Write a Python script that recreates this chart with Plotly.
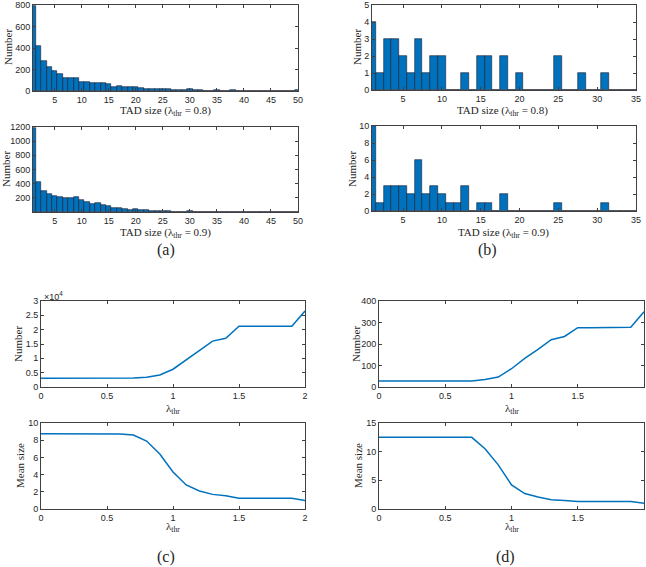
import plotly.graph_objects as go
from plotly.subplots import make_subplots

W, H = 646, 567

# ---------------- data ----------------
a_sizes = list(range(1, 51))
a_top_counts = [790, 420, 283, 225, 190, 160, 117, 120, 120, 86, 86, 77, 74, 74, 62, 40, 43, 40, 34, 40,
                25, 22, 22, 22, 18, 15, 12, 8, 6, 15, 6, 5, 4, 3, 6, 3, 2, 6, 2, 2,
                2, 1, 2, 2, 1, 1, 2, 1, 1, 8]
a_bot_counts = [1180, 425, 294, 248, 220, 215, 192, 200, 210, 164, 145, 117, 121, 93, 79, 61, 56, 37, 33, 42,
                23, 23, 14, 14, 19, 9, 6, 5, 3, 10, 3, 2, 2, 1, 1, 1, 1, 2, 1, 0,
                1, 0, 0, 0, 0, 0, 0, 0, 0, 0]

b_sizes = list(range(1, 36))
b_top_counts = [4, 1, 3, 3, 2, 1, 3, 1, 2, 2, 0, 0, 1, 0, 2, 2, 0, 2, 0, 1,
                0, 0, 0, 0, 2, 0, 0, 1, 0, 0, 1, 0, 0, 0, 0]
b_bot_counts = [10, 1, 3, 3, 3, 2, 6, 2, 3, 2, 1, 1, 3, 0, 1, 1, 0, 2, 0, 0,
                0, 0, 0, 0, 1, 0, 0, 0, 0, 0, 1, 0, 0, 0, 0]

lam = [0.0, 0.1, 0.2, 0.3, 0.4, 0.5, 0.6, 0.7, 0.8, 0.9, 1.0,
       1.1, 1.2, 1.3, 1.4, 1.5, 1.6, 1.7, 1.8, 1.9, 2.0]
c_number = [3050, 3050, 3050, 3050, 3050, 3050, 3070, 3150, 3400, 4200, 6200,
            9400, 12700, 16000, 17000, 21200, 21200, 21200, 21200, 21200, 26500]
c_mean = [8.75, 8.75, 8.75, 8.75, 8.75, 8.75, 8.72, 8.6, 7.9, 6.4, 4.3,
          2.8, 2.1, 1.7, 1.55, 1.25, 1.25, 1.25, 1.25, 1.25, 1.0]
d_number = [28, 28, 28, 28, 28, 28, 28, 28, 35, 46, 85,
            133, 175, 220, 235, 276, 276, 277, 276, 278, 350]
d_mean = [12.5, 12.5, 12.5, 12.5, 12.5, 12.5, 12.5, 12.5, 10.5, 7.7, 4.2,
          2.7, 2.1, 1.6, 1.5, 1.3, 1.3, 1.3, 1.3, 1.3, 1.0]

BLUE = "#0072BD"
AXC = "#404040"
TICKFONT = dict(family="Liberation Sans, Arial, sans-serif", size=9, color="#262626")
SERIF = "Liberation Serif, Times New Roman, serif"

fig = make_subplots(rows=4, cols=2)

def bar(x, y, r, c):
    fig.add_trace(go.Bar(x=x, y=y, width=1, marker=dict(color=BLUE, line=dict(color="#1a1a2a", width=0.6)),
                         showlegend=False), row=r, col=c)

def line(x, y, r, c):
    fig.add_trace(go.Scatter(x=x, y=y, mode="lines", line=dict(color=BLUE, width=1.5), showlegend=False),
                  row=r, col=c)

bar(a_sizes, a_top_counts, 1, 1)
bar(b_sizes, b_top_counts, 1, 2)
bar(a_sizes, a_bot_counts, 2, 1)
bar(b_sizes, b_bot_counts, 2, 2)
line(lam, c_number, 3, 1)
line(lam, d_number, 3, 2)
line(lam, c_mean, 4, 1)
line(lam, d_mean, 4, 2)

def dx(l, r):
    return [l / W, r / W]

def dy(t, b):
    return [1 - b / H, 1 - t / H]

common = dict(showline=True, linecolor=AXC, linewidth=0.8, mirror="ticks", ticks="inside",
              ticklen=3, tickcolor=AXC, tickfont=TICKFONT, showgrid=False, zeroline=False,
              automargin=False)

specs = {
    1: dict(xd=dx(33, 298), yd=dy(5, 91), xr=[1, 50], xt=list(range(5, 51, 5)),
            yr=[0, 800], yt=[0, 200, 400, 600, 800]),
    2: dict(xd=dx(372, 636), yd=dy(5, 90), xr=[1, 35], xt=list(range(5, 36, 5)),
            yr=[0, 5], yt=[0, 1, 2, 3, 4, 5]),
    3: dict(xd=dx(33, 298), yd=dy(127, 212), xr=[1, 50], xt=list(range(5, 51, 5)),
            yr=[0, 1200], yt=[200, 400, 600, 800, 1000, 1200]),
    4: dict(xd=dx(372, 636), yd=dy(126, 211), xr=[1, 35], xt=list(range(5, 36, 5)),
            yr=[0, 10], yt=[0, 2, 4, 6, 8, 10]),
    5: dict(xd=dx(41, 305), yd=dy(301, 387), xr=[0, 2], xt=[0, 0.5, 1, 1.5, 2],
            yr=[0, 30000], yt=[0, 5000, 10000, 15000, 20000, 25000, 30000],
            ytt=["0", "0.5", "1", "1.5", "2", "2.5", "3"]),
    6: dict(xd=dx(379, 644), yd=dy(301, 387), xr=[0, 2], xt=[0, 0.5, 1, 1.5, 2],
            yr=[0, 400], yt=[0, 100, 200, 300, 400]),
    7: dict(xd=dx(41, 305), yd=dy(423, 509), xr=[0, 2], xt=[0, 0.5, 1, 1.5, 2],
            yr=[0, 10], yt=[0, 2, 4, 6, 8, 10]),
    8: dict(xd=dx(379, 644), yd=dy(423, 509), xr=[0, 2], xt=[0, 0.5, 1, 1.5, 2],
            yr=[0, 15], yt=[0, 5, 10, 15]),
}

for n, s in specs.items():
    k = "" if n == 1 else str(n)
    xa = dict(common, domain=s["xd"], range=s["xr"], tickvals=s["xt"])
    ya = dict(common, domain=s["yd"], range=s["yr"], tickvals=s["yt"])
    if "ytt" in s:
        ya["ticktext"] = s["ytt"]
    fig.layout["xaxis" + k].update(xa)
    fig.layout["yaxis" + k].update(ya)

ann = []

def text(t, x, y, size=11, angle=0, xanchor="center"):
    ann.append(dict(text=t, x=x / W, y=1 - y / H, xref="paper", yref="paper", showarrow=False,
                    textangle=angle, xanchor=xanchor, yanchor="middle",
                    font=dict(family=SERIF, size=size, color="#262626")))

# y titles
text("Number", 8, 47, angle=-90)
text("Number", 6, 169, angle=-90)
text("Number", 357, 47, angle=-90)
text("Number", 352, 169, angle=-90)
text("Number", 18, 344, angle=-90)
text("Mean size", 20, 466, angle=-90)
text("Number", 356, 344, angle=-90)
text("Mean size", 358, 466, angle=-90)

# x titles
text("TAD size (λ<sub>thr</sub> = 0.8)", 165, 111)
text("TAD size (λ<sub>thr</sub> = 0.9)", 165, 233)
text("TAD size (λ<sub>thr</sub> = 0.8)", 502, 111)
text("TAD size (λ<sub>thr</sub> = 0.9)", 503, 233)
text("λ<sub>thr</sub>", 173, 409)
text("λ<sub>thr</sub>", 173, 527)
text("λ<sub>thr</sub>", 512, 409)
text("λ<sub>thr</sub>", 512, 527)

# panel labels
text("(a)", 166, 250, size=16)
text("(b)", 487, 250, size=16)
text("(c)", 166, 557, size=16)
text("(d)", 505, 557, size=16)

# exponent
ann.append(dict(text="×10<sup>4</sup>", x=42 / W, y=1 - 296 / H, xref="paper", yref="paper",
                showarrow=False, xanchor="left", yanchor="middle",
                font=dict(family="Liberation Sans, Arial, sans-serif", size=9, color="#262626")))

fig.update_layout(width=W, height=H, margin=dict(l=0, r=0, t=0, b=0, pad=0, autoexpand=False),
                  paper_bgcolor="white", plot_bgcolor="white", bargap=0,
                  annotations=ann, showlegend=False)

fig.write_html("out.html", config={"displayModeBar": False},
               post_script="document.body.style.margin='0';document.body.style.overflow='hidden';")
